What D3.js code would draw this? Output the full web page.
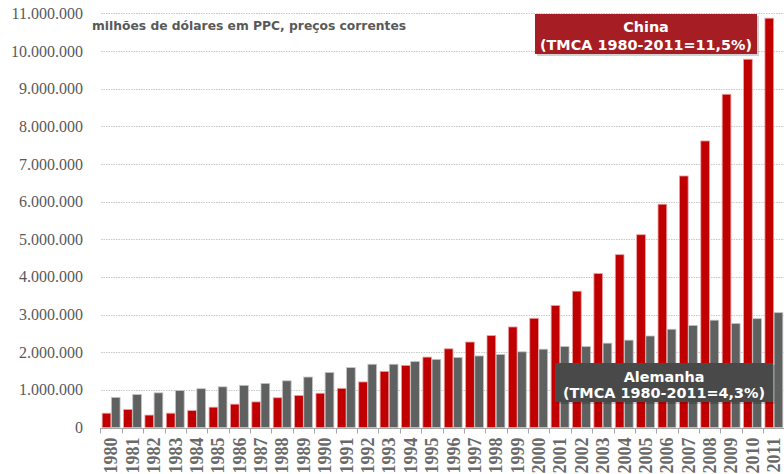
<!DOCTYPE html>
<html>
<head>
<meta charset="utf-8">
<script src="https://cdn.jsdelivr.net/npm/d3@7"></script>
<style>
  body { margin: 0; background: #fff; }
  svg { display: block; }
</style>
</head>
<body>
<div id="chart"></div>
<script>
// values in millions of PPP dollars
const years = d3.range(1980, 2012).map(String);
const china = [0.38, 0.48, 0.33, 0.38, 0.45, 0.54, 0.62, 0.68, 0.79, 0.85, 0.91, 1.04, 1.21, 1.49, 1.65, 1.87,
  2.09, 2.27, 2.44, 2.67, 2.90, 3.24, 3.62, 4.09, 4.59, 5.12, 5.93, 6.68, 7.61, 8.85, 9.78, 10.87];
const germany = [0.80, 0.875, 0.92, 0.98, 1.03, 1.08, 1.12, 1.17, 1.24, 1.34, 1.46, 1.59, 1.68, 1.68, 1.75, 1.81,
  1.86, 1.90, 1.94, 2.01, 2.08, 2.15, 2.15, 2.24, 2.32, 2.43, 2.61, 2.71, 2.85, 2.76, 2.89, 3.05];
const yTicks = d3.range(0, 12).map((d) => d * 1e6);
const subtitle = "milhões de dólares em PPC, preços correntes";
const legendChina = ["China", "(TMCA 1980-2011=11,5%)"];
const legendGermany = ["Alemanha", "(TMCA 1980-2011=4,3%)"];

const width = 784;
const height = 474;
const serif = "Liberation Serif, Times New Roman, serif";
const sans = "DejaVu Sans, Verdana, sans-serif";

const series = [
  { key: "china", values: china, color: "#c00000", edge: "#eaa3a3" },
  { key: "germany", values: germany, color: "#5f6060", edge: "#c4c4c4" },
];

const pt = d3.formatLocale({ decimal: ",", thousands: ".", grouping: [3], currency: ["", ""] });
const fmt = pt.format(",");

const svg = d3.select("#chart").append("svg")
  .attr("width", width)
  .attr("height", height);

const xScale = d3.scaleBand(years, [100, 785]).paddingInner(0.12).paddingOuter(0.08);
const xSub = d3.scaleBand(series.map((s) => s.key), [0, xScale.bandwidth()]).padding(0.05);
const yScale = d3.scaleLinear([0, 11e6], [427.5, 13.3]);

// gridlines
svg.append("g")
  .selectAll("line")
  .data(yTicks.filter((d) => d > 0))
  .join("line")
  .attr("x1", 101)
  .attr("x2", width)
  .attr("y1", (d) => Math.round(yScale(d)) + 0.5)
  .attr("y2", (d) => Math.round(yScale(d)) + 0.5)
  .attr("stroke", "#c8c8c8")
  .attr("stroke-dasharray", "1.5,1");

// y labels
svg.append("g")
  .selectAll("text")
  .data(yTicks)
  .join("text")
  .attr("x", 83)
  .attr("y", (d) => yScale(d))
  .attr("dy", "0.35em")
  .attr("text-anchor", "end")
  .style("font-family", serif)
  .style("font-size", "16px")
  .attr("fill", "#595959")
  .text(fmt);

// bars
const groups = svg.append("g")
  .selectAll("g")
  .data(years)
  .join("g")
  .attr("transform", (d) => `translate(${xScale(d)},0)`);

groups.selectAll("rect")
  .data((d, i) => series.map((s) => ({ key: s.key, value: s.values[i] * 1e6, color: s.color, edge: s.edge })))
  .join("rect")
  .attr("x", (d) => xSub(d.key))
  .attr("width", xSub.bandwidth())
  .attr("y", (d) => yScale(d.value))
  .attr("height", (d) => yScale(0) - yScale(d.value))
  .attr("fill", (d) => d.color)
  .attr("stroke", (d) => d.edge)
  .attr("stroke-width", 0.8);

// x axis
const step = xScale.step();
const axis = svg.append("g").attr("transform", `translate(0,${Math.round(yScale(0)) + 0.5})`);
axis.append("line")
  .attr("x1", 100)
  .attr("x2", width)
  .attr("stroke", "#a6a6a6")
  .attr("stroke-width", 1.2);
axis.selectAll(".tick")
  .data(years)
  .join("line")
  .attr("class", "tick")
  .attr("x1", (d) => Math.round(xScale(d) - step * xScale.paddingInner() / 2) + 0.5)
  .attr("x2", (d) => Math.round(xScale(d) - step * xScale.paddingInner() / 2) + 0.5)
  .attr("y1", 0)
  .attr("y2", 5)
  .attr("stroke", "#a6a6a6");
axis.selectAll(".year")
  .data(years)
  .join("text")
  .attr("class", "year")
  .attr("transform", (d) => `translate(${xScale(d) + xScale.bandwidth() / 2},9) rotate(-90)`)
  .attr("dy", "0.35em")
  .attr("text-anchor", "end")
  .style("font-family", serif)
  .style("font-size", "18px")
  .style("font-weight", "bold")
  .attr("fill", "#6a6a6a")
  .text((d) => d);

// subtitle
svg.append("text")
  .attr("x", 92)
  .attr("y", 30)
  .style("font-family", sans)
  .style("font-size", "12.3px")
  .style("font-weight", "bold")
  .attr("fill", "#595959")
  .text(subtitle);

// legend boxes
function labelBox(x, y, w, h, fill, lines, y1, y2) {
  const g = svg.append("g");
  g.append("rect")
    .attr("x", x + 2).attr("y", y + 2).attr("width", w).attr("height", h)
    .attr("fill", "#000").attr("opacity", 0.18);
  g.append("rect")
    .attr("x", x).attr("y", y).attr("width", w).attr("height", h)
    .attr("fill", fill);
  g.selectAll("text")
    .data(lines)
    .join("text")
    .attr("x", x + w / 2)
    .attr("y", (d, i) => (i ? y2 : y1))
    .attr("text-anchor", "middle")
    .style("font-family", sans)
    .style("font-size", "14.4px")
    .style("font-weight", "bold")
    .attr("fill", "#fff")
    .text((d) => d);
}

labelBox(535, 14, 222, 40, "#a61e24", legendChina, 32, 50);
labelBox(555, 363, 218, 39, "#494949", legendGermany, 382, 398);
</script>
</body>
</html>
